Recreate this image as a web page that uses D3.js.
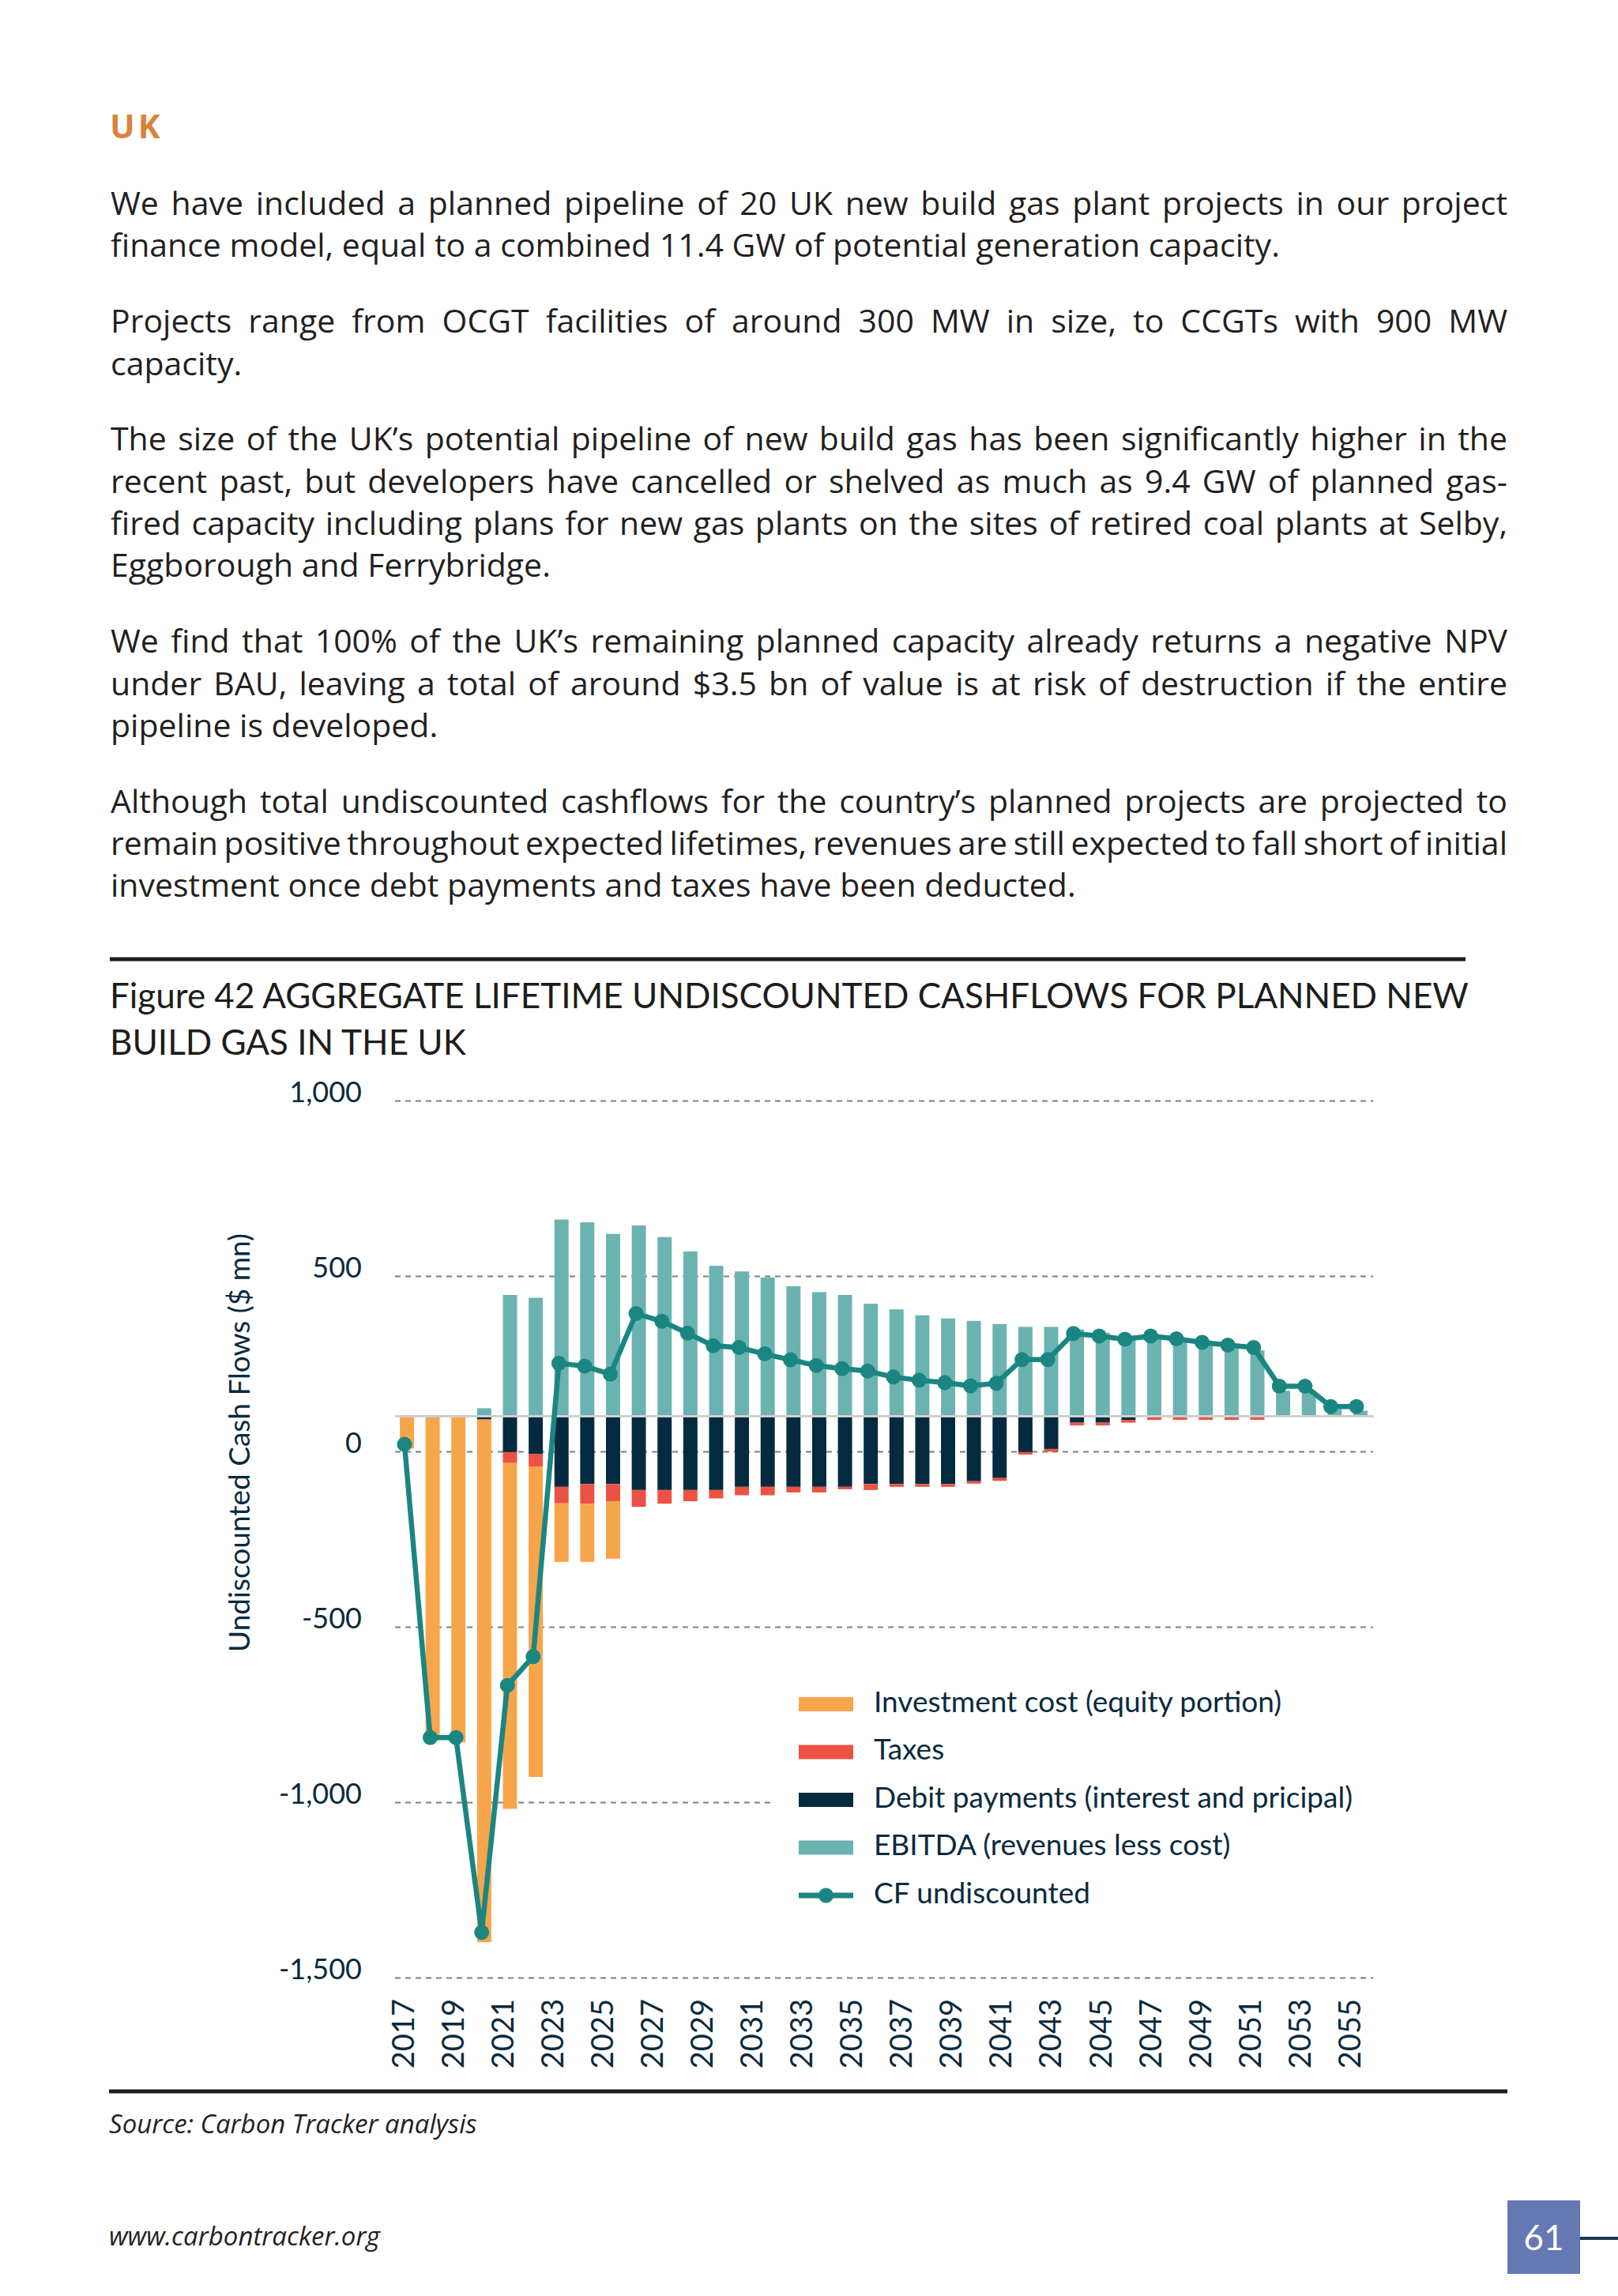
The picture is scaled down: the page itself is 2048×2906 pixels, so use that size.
<!DOCTYPE html>
<html>
<head>
<meta charset="utf-8">
<script src="https://cdn.jsdelivr.net/npm/d3@7"></script>
<style>
  body { margin: 0; background: #fff; }
  svg { display: block; }
  svg text { font-family: Lato, 'Open Sans', sans-serif; }
  svg text.body { font-family: 'Open Sans', Lato, sans-serif; }
</style>
</head>
<body>
<svg id="svg" width="2048" height="2906"></svg>
<script>
// ---- data ($ mn) ----
const years = [2017, 2018, 2019, 2020, 2021, 2022, 2023, 2024, 2025, 2026,
  2027, 2028, 2029, 2030, 2031, 2032, 2033, 2034, 2035, 2036,
  2037, 2038, 2039, 2040, 2041, 2042, 2043, 2044, 2045, 2046,
  2047, 2048, 2049, 2050, 2051, 2052, 2053, 2054];
const investment = [-92, -921, -929, -1490, -986, -885, -167, -166, -164, 0,
  0, 0, 0, 0, 0, 0, 0, 0, 0, 0,
  0, 0, 0, 0, 0, 0, 0, 0, 0, 0,
  0, 0, 0, 0, 0, 0, 0, 0];
const taxes = [0, 0, 0, 0, -31, -35, -47, -56, -49, -48,
  -39, -32, -24, -24, -24, -16, -16, -7, -17, -8,
  -8, -8, -7, -8, -7, -8, -8, -8, -8, -10,
  -10, -10, -10, -10, 0, 0, 0, 0];
const debt = [0, 0, 0, -9, -102, -108, -201, -193, -193, -210,
  -210, -210, -210, -201, -201, -201, -201, -201, -193, -193,
  -193, -193, -185, -176, -102, -93, -18, -18, -10, 0,
  0, 0, 0, 0, 0, 0, 0, 0];
const ebitda = [0, 0, 0, 23, 346, 338, 561, 553, 520, 544,
  511, 470, 429, 413, 396, 371, 354, 346, 321, 305,
  288, 279, 272, 263, 255, 255, 248, 238, 230, 221,
  213, 202, 193, 188, 73, 73, 20, 16];
const cfUndiscounted = [-80, -916, -916, -1471, -767, -685, 151, 143, 120, 293,
  271, 237, 201, 196, 178, 161, 145, 136, 129, 112,
  103, 96, 87, 94, 162, 162, 236, 229, 220, 229,
  221, 211, 203, 196, 86, 86, 28, 28];

const yTicks = [1000, 500, 0, -500, -1000, -1500];
const xTickYears = [2017, 2019, 2021, 2023, 2025, 2027, 2029, 2031, 2033, 2035,
  2037, 2039, 2041, 2043, 2045, 2047, 2049, 2051, 2053, 2055];

const legendLabels = ['Investment cost (equity portion)', 'Taxes',
  'Debit payments (interest and pricipal)', 'EBITDA (revenues less cost)', 'CF undiscounted'];

const paragraphs = [
  ['We have included a planned pipeline of 20 UK new build gas plant projects in our project',
   'finance model, equal to a combined 11.4 GW of potential generation capacity.'],
  ['Projects range from OCGT facilities of around 300 MW in size, to CCGTs with 900 MW',
   'capacity.'],
  ['The size of the UK\u2019s potential pipeline of new build gas has been significantly higher in the',
   'recent past, but developers have cancelled or shelved as much as 9.4 GW of planned gas-',
   'fired capacity including plans for new gas plants on the sites of retired coal plants at Selby,',
   'Eggborough and Ferrybridge.'],
  ['We find that 100% of the UK\u2019s remaining planned capacity already returns a negative NPV',
   'under BAU, leaving a total of around $3.5 bn of value is at risk of destruction if the entire',
   'pipeline is developed.'],
  ['Although total undiscounted cashflows for the country\u2019s planned projects are projected to',
   'remain positive throughout expected lifetimes, revenues are still expected to fall short of initial',
   'investment once debt payments and taxes have been deducted.']
];

const titleLines = ['Figure 42 AGGREGATE LIFETIME UNDISCOUNTED CASHFLOWS FOR PLANNED NEW',
  'BUILD GAS IN THE UK'];

// ---- colours ----
var colors = { invest: '#F7A54A', tax: '#EC5244', debt: '#042A3F', ebitda: '#6BB3B1', line: '#1B8681' };
var navy = '#0B2A3D';

var svg = d3.select('#svg');
svg.append('rect').attr('width', 2048).attr('height', 2906).attr('fill', '#fff');

// ---- page text ----
svg.append('text')
  .attr('class', 'body')
  .attr('x', 139).attr('y', 175)
  .attr('font-size', 42).attr('font-weight', 700)
  .attr('letter-spacing', 4)
  .attr('fill', '#D9823B')
  .text('UK');

var colLeft = 140, colWidth = 1768;
var bodyY = 272;
paragraphs.forEach((lines) => {
  lines.forEach((line, i) => {
    var t = svg.append('text')
      .attr('class', 'body')
      .attr('x', colLeft).attr('y', bodyY)
      .attr('font-size', 41)
      .attr('fill', '#231F20')
      .text(line);
    // justify every line but the last by stretching the word gaps
    if (i < lines.length - 1) {
      var natural = t.node().getComputedTextLength();
      var gaps = line.split(' ').length - 1;
      t.attr('word-spacing', (colWidth - natural) / gaps);
      bodyY += 53.4;
    }
  });
  bodyY += 95.7;
});

svg.append('line')
  .attr('x1', 139).attr('x2', 1855)
  .attr('y1', 1214).attr('y2', 1214)
  .attr('stroke', '#1d1d1b').attr('stroke-width', 5);

titleLines.forEach((line, i) => {
  svg.append('text')
    .attr('x', 139).attr('y', 1276 + i * 59)
    .attr('font-size', 44)
    .attr('fill', '#1d1d1b')
    .text(line);
});

// ---- scales ----
var gridLeft = 500, gridRight = 1738;

// bars and line use the true values; the gray zero line sits at 0
var yScale = d3.scaleLinear()
  .domain([-1600, 900])
  .range([2503, 1393]);

// the printed axis labels sit 100 units lower than the bars' zero
var axisShift = 100;
var yAxisScale = yScale.copy()
  .domain(yScale.domain().map((d) => d + axisShift));

var xBar = d3.scaleBand()
  .domain(years)
  .range([498.7, 1738.3])
  .paddingInner(0.45)
  .paddingOuter(0.225);

var xLine = d3.scalePoint()
  .domain(years)
  .range([512, 1717]);

var xLabel = d3.scaleLinear()
  .domain([2017, 2055])
  .range([510, 1708]);

// ---- grid ----
var grid = svg.append('g')
  .attr('transform', `translate(${gridLeft}, 0)`)
  .call(d3.axisLeft(yAxisScale)
    .tickValues(yTicks)
    .tickSize(-(gridRight - gridLeft))
    .tickFormat(''));
grid.select('.domain').remove();
grid.selectAll('line')
  .attr('stroke', '#7f7f7f')
  .attr('stroke-width', 2)
  .attr('stroke-dasharray', '7,6');

var fmt = (d) => d3.format(',')(d).replace('\u2212', '-');
var yAx = svg.append('g')
  .attr('transform', `translate(${gridLeft}, 0)`)
  .call(d3.axisLeft(yAxisScale)
    .tickValues(yTicks)
    .tickSize(0)
    .tickPadding(42)
    .tickFormat(fmt));
yAx.select('.domain').remove();
yAx.selectAll('text')
  .attr('y', -10)
  .attr('font-size', 36)
  .attr('fill', navy);

svg.append('text')
  .attr('transform', 'translate(316, 1826) rotate(-90)')
  .attr('text-anchor', 'middle')
  .attr('font-size', 37)
  .attr('fill', navy)
  .text('Undiscounted Cash Flows ($ mn)');

// ---- stacked bars ----
var keys = ['debt', 'tax', 'invest', 'ebitda'];
var table = years.map((yr, i) => ({
  year: yr, debt: debt[i], tax: taxes[i], invest: investment[i], ebitda: ebitda[i]
}));
var series = d3.stack()
  .keys(keys)
  .offset(d3.stackOffsetDiverging)(table);

svg.append('g')
  .selectAll('g')
  .data(series)
  .enter()
  .append('g')
  .attr('fill', (s) => colors[s.key])
  .selectAll('rect')
  .data((s) => s)
  .enter()
  .append('rect')
  .attr('x', (d) => xBar(d.data.year))
  .attr('y', (d) => yScale(Math.max(d[0], d[1])))
  .attr('width', xBar.bandwidth())
  .attr('height', (d) => Math.abs(yScale(d[0]) - yScale(d[1])));

// zero line
svg.append('line')
  .attr('x1', gridLeft).attr('x2', gridRight + 1)
  .attr('y1', yScale(0)).attr('y2', yScale(0))
  .attr('stroke', '#CFCFCF')
  .attr('stroke-width', 3);

// ---- CF line ----
var cfLine = d3.line()
  .x((d, i) => xLine(years[i]))
  .y((d) => yScale(d));

svg.append('path')
  .datum(cfUndiscounted)
  .attr('d', cfLine)
  .attr('fill', 'none')
  .attr('stroke', colors.line)
  .attr('stroke-width', 6.5)
  .attr('stroke-linejoin', 'round');

svg.append('g')
  .selectAll('circle')
  .data(cfUndiscounted)
  .enter()
  .append('circle')
  .attr('cx', (d, i) => xLine(years[i]))
  .attr('cy', (d) => yScale(d))
  .attr('r', 9.5)
  .attr('fill', colors.line);

// ---- x labels ----
var xAx = svg.append('g')
  .attr('transform', 'translate(0, 2530)')
  .call(d3.axisBottom(xLabel)
    .tickValues(xTickYears)
    .tickSize(0)
    .tickFormat(d3.format('d')));
xAx.select('.domain').remove();
xAx.selectAll('text')
  .attr('transform', 'rotate(-90)')
  .attr('text-anchor', 'end')
  .attr('x', 0).attr('y', 0)
  .attr('dy', '0.35em')
  .attr('font-size', 38)
  .attr('fill', navy);

// ---- legend ----
svg.append('rect')
  .attr('x', 977).attr('y', 2110)
  .attr('width', 770).attr('height', 330)
  .attr('fill', '#fff');

var legendColors = [colors.invest, colors.tax, colors.debt, colors.ebitda, colors.line];
var legend = svg.append('g')
  .selectAll('g')
  .data(legendLabels)
  .enter()
  .append('g')
  .attr('transform', (d, i) => `translate(1011, ${2157 + i * 60.5})`);

legend.filter((d, i) => i < 4)
  .append('rect')
  .attr('x', 0).attr('y', -9)
  .attr('width', 69).attr('height', 18)
  .attr('fill', (d, i) => legendColors[i]);

var cfKey = legend.filter((d, i) => i === 4);
cfKey.append('line')
  .attr('x1', 0).attr('x2', 69)
  .attr('stroke', colors.line)
  .attr('stroke-width', 7);
cfKey.append('circle')
  .attr('cx', 34.5).attr('r', 9.5)
  .attr('fill', colors.line);

legend.append('text')
  .attr('x', 95).attr('y', 9.5)
  .attr('font-size', 37)
  .attr('fill', navy)
  .text((d) => d);

// ---- footer ----
svg.append('line')
  .attr('x1', 138).attr('x2', 1908)
  .attr('y1', 2647).attr('y2', 2647)
  .attr('stroke', '#1d1d1b').attr('stroke-width', 5);

svg.append('text')
  .attr('class', 'body')
  .attr('x', 138).attr('y', 2700)
  .attr('font-size', 33).attr('font-style', 'italic')
  .attr('fill', '#231F20')
  .text('Source: Carbon Tracker analysis');

svg.append('text')
  .attr('class', 'body')
  .attr('x', 138).attr('y', 2842)
  .attr('font-size', 33).attr('font-style', 'italic')
  .attr('fill', '#231F20')
  .text('www.carbontracker.org');

svg.append('rect')
  .attr('x', 1908).attr('y', 2785)
  .attr('width', 92).attr('height', 93)
  .attr('fill', '#6479B4');
svg.append('line')
  .attr('x1', 2000).attr('x2', 2048)
  .attr('y1', 2833).attr('y2', 2833)
  .attr('stroke', '#1E3550').attr('stroke-width', 4);
svg.append('text')
  .attr('x', 1954).attr('y', 2848)
  .attr('text-anchor', 'middle')
  .attr('font-size', 44)
  .attr('fill', '#fff')
  .text('61');
</script>
</body>
</html>
